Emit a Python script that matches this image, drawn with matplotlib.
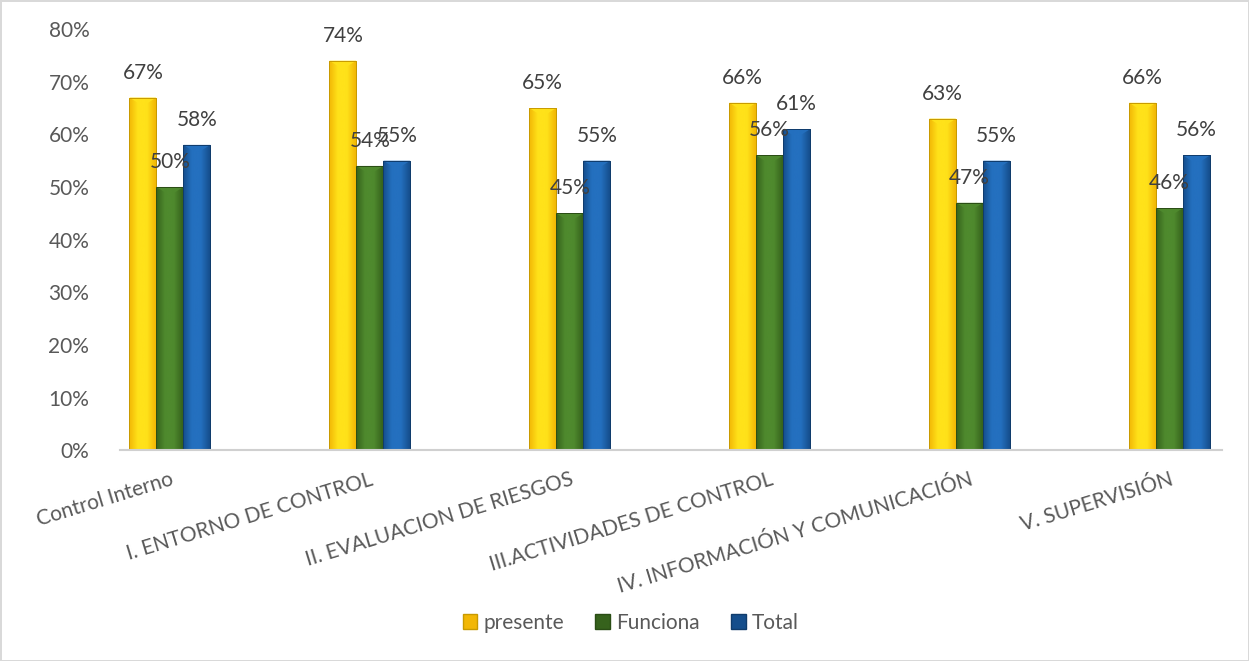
import numpy as np
import matplotlib.pyplot as plt
from matplotlib.patches import Polygon, Rectangle
from matplotlib.colors import LinearSegmentedColormap

plt.rcParams['font.family'] = ['Lato', 'DejaVu Sans']

categorias = ['Control Interno', 'I. ENTORNO DE CONTROL', 'II. EVALUACION DE RIESGOS',
              'III.ACTIVIDADES DE CONTROL', 'IV. INFORMACIÓN Y COMUNICACIÓN', 'V. SUPERVISIÓN']
presente = [67, 74, 65, 66, 63, 66]
funciona = [50, 54, 45, 56, 47, 46]
total = [58, 55, 55, 61, 55, 56]

series = [
    ('presente', presente, ('#FFE21A', '#F2B705'), '#C89A00'),
    ('Funciona', funciona, ('#4F8A2E', '#36621C'), '#2A4D15'),
    ('Total', total, ('#2470BF', '#154E8C'), '#103C6C'),
]

fig = plt.figure(figsize=(12.49, 6.61), dpi=100)
fig.patch.set_edgecolor('#D9D9D9')
fig.patch.set_linewidth(2)
ax = fig.add_axes([0.096, 0.319, 0.882, 0.637])

x = np.arange(len(categorias))
ancho = 0.135
bisel = 1.6  # depth of the top bevel, in percentage points

for k, (nombre, valores, (claro, oscuro), borde) in enumerate(series):
    pos = x + (k - 1) * ancho
    barras = ax.bar(pos, valores, ancho, color=oscuro, edgecolor=borde, linewidth=0.6,
                    label=nombre, zorder=2)
    cmap = LinearSegmentedColormap.from_list(nombre, [oscuro, claro, claro, oscuro])
    for b, v in zip(barras, valores):
        x0, w = b.get_x(), b.get_width()
        # horizontal shading across each bar
        grad = np.linspace(0, 1, 64).reshape(1, -1)
        im = ax.imshow(grad, cmap=cmap, aspect='auto', extent=(x0, x0 + w, 0, v),
                       zorder=2.1, interpolation='bicubic')
        im.set_clip_path(b)
        # lighter bevel on the top face
        tri = Polygon([(x0, v), (x0 + w, v), (x0 + w * 0.5, v - bisel)], closed=True,
                      facecolor=claro, edgecolor='none', alpha=0.9, zorder=2.2)
        ax.add_patch(tri)
        ax.add_patch(Rectangle((x0, 0), w, v, fill=False, edgecolor=borde,
                               linewidth=0.7, zorder=2.3))
        ax.annotate(f'{v}%', (x0 + w / 2, v), xytext=(0, 18), textcoords='offset points',
                    ha='center', va='center', fontsize=15, color='#404040', zorder=3)

ax.set_xlim(-0.25, 5.26)
ax.set_ylim(0, 80)
ax.set_yticks(range(0, 81, 10))
ax.set_yticklabels([f'{t}%' for t in range(0, 81, 10)])
ax.set_xticks(x)
ax.set_xticklabels(categorias, rotation=17, ha='right', rotation_mode='anchor')
ax.tick_params(axis='both', length=0, labelsize=15, labelcolor='#595959')
ax.tick_params(axis='y', pad=22)
ax.tick_params(axis='x', pad=14)
for lado in ['top', 'right', 'left']:
    ax.spines[lado].set_visible(False)
ax.spines['bottom'].set_color('#D0D0D0')
ax.spines['bottom'].set_linewidth(1.5)

handles = [Rectangle((0, 0), 1, 1, facecolor=s[2][1], edgecolor=s[3]) for s in series]
fig.legend(handles, [s[0] for s in series], loc='center', bbox_to_anchor=(0.505, 0.058),
           ncol=3, frameon=False, fontsize=15, handlelength=0.7, handleheight=0.7,
           handletextpad=0.3, columnspacing=1.5, labelcolor='#595959')

fig.savefig('out.png', dpi=100)
